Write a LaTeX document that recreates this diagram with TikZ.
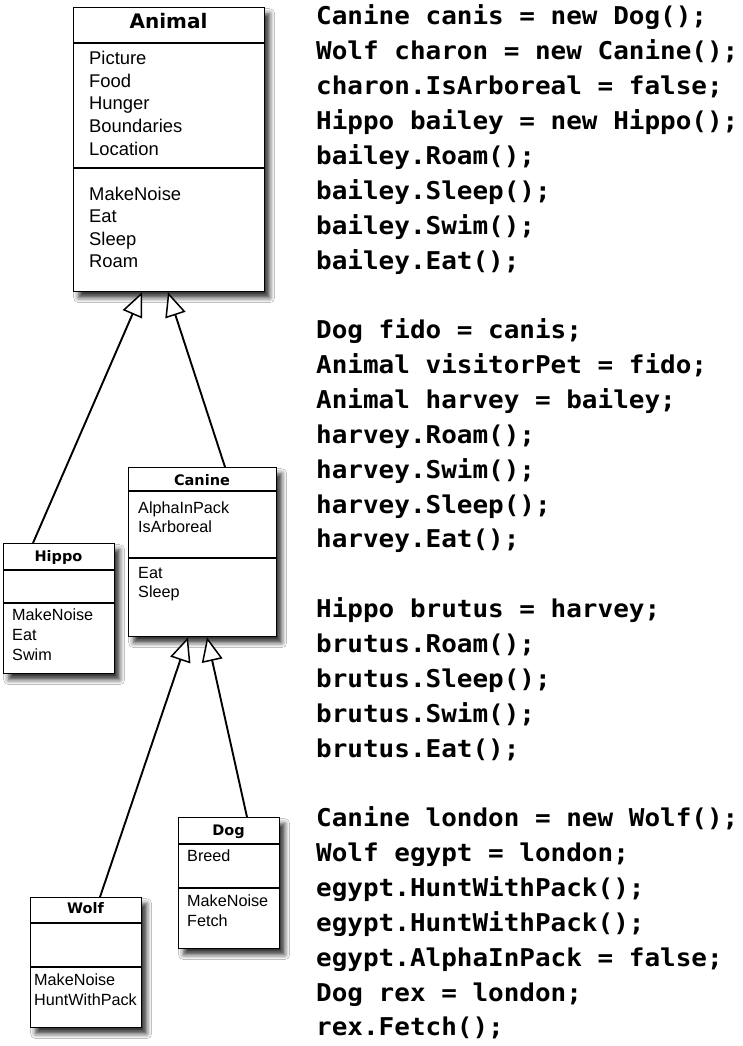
\documentclass[tikz,border=0pt]{standalone}
\usepackage{fontspec}
\setmainfont{Liberation Sans}
\newfontfamily\codefont[FakeStretch=1.06]{DejaVu Sans Mono}
\newfontfamily\headfont{DejaVu Sans}
\usetikzlibrary{arrows.meta,shadows.blur}
\tikzset{
  umlbox/.style={draw=black, line width=1.3pt, fill=white, inner sep=0pt, anchor=north west,
    blur shadow={shadow xshift=5pt, shadow yshift=-6pt, shadow blur radius=5pt, shadow opacity=80}},
  sepline/.style={line width=1.3pt},
  bigtitle/.style={anchor=base, inner sep=0pt, font={\headfont\bfseries\fontsize{20}{22}\selectfont}},
  smalltitle/.style={anchor=base, inner sep=0pt, font={\headfont\bfseries\fontsize{14.5}{17}\selectfont}},
  bigitem/.style={anchor=base west, inner sep=0pt, font={\fontsize{18.4}{22}\selectfont}},
  smallitem/.style={anchor=base west, inner sep=0pt, font={\fontsize{16.2}{19}\selectfont}},
  codeline/.style={anchor=base west, inner sep=0pt, font={\codefont\bfseries\fontsize{24.5}{34}\selectfont}},
  inherit/.style={line width=1.9pt, -{Triangle[length=24pt, width=21pt, fill=white, line width=1.5pt]}}
}
\begin{document}
\begin{tikzpicture}[x=1pt, y=-1pt]
\useasboundingbox[fill=white] (0,0) rectangle (742,1046);

% Animal
\node[umlbox, minimum width=191pt, minimum height=284pt] (animal) at (73,7) {};
\draw[sepline] (73,43) -- (264,43);
\draw[sepline] (73,168) -- (264,168);
\node[bigtitle] (animalT) at (168.5,28.5) {Animal};
\foreach \y/\t [count=\i] in {65/Picture, 87.5/Food, 110/Hunger, 132.5/Boundaries, 155/Location,
  200/MakeNoise, 222.5/Eat, 245/Sleep, 267.5/Roam}
  \node[bigitem] (animal\i) at (89,\y) {\t};

% Canine
\node[umlbox, minimum width=148pt, minimum height=169pt] (canine) at (128,467) {};
\draw[sepline] (128,491) -- (276,491);
\draw[sepline] (128,558) -- (276,558);
\node[smalltitle] (canineT) at (202,485) {Canine};
\foreach \y/\t [count=\i] in {513/AlphaInPack, 532/IsArboreal, 578/Eat, 597/Sleep}
  \node[smallitem] (canine\i) at (138,\y) {\t};

% Hippo
\node[umlbox, minimum width=111pt, minimum height=130pt] (hippo) at (3,543) {};
\draw[sepline] (3,570) -- (114,570);
\draw[sepline] (3,603) -- (114,603);
\node[smalltitle] (hippoT) at (58.5,561.5) {Hippo};
\foreach \y/\t [count=\i] in {620/MakeNoise, 640/Eat, 660/Swim}
  \node[smallitem] (hippo\i) at (12,\y) {\t};

% Wolf
\node[umlbox, minimum width=111pt, minimum height=130pt] (wolf) at (30,897) {};
\draw[sepline] (30,923) -- (141,923);
\draw[sepline] (30,967) -- (141,967);
\node[smalltitle] (wolfT) at (85.5,913) {Wolf};
\foreach \y/\t [count=\i] in {985/MakeNoise, 1005/HuntWithPack}
  \node[smallitem] (wolf\i) at (34,\y) {\t};

% Dog
\node[umlbox, minimum width=101pt, minimum height=131pt] (dog) at (178,817) {};
\draw[sepline] (178,844) -- (279,844);
\draw[sepline] (178,888) -- (279,888);
\node[smalltitle] (dogT) at (228.5,835) {Dog};
\foreach \y/\t [count=\i] in {861.5/Breed, 906.5/MakeNoise, 926.5/Fetch}
  \node[smallitem] (dog\i) at (187,\y) {\t};

% inheritance connectors
\draw[inherit] ([xshift=30pt]hippo.north west) -- ([xshift=69pt]animal.south west);
\draw[inherit] ([xshift=97pt]canine.north west) -- ([xshift=95pt]animal.south west);
\draw[inherit] ([xshift=70pt]wolf.north west) -- ([xshift=60pt]canine.south west);
\draw[inherit] ([xshift=69pt]dog.north west) -- ([xshift=79pt]canine.south west);

% code
\foreach \n/\t in {0/Canine canis = new Dog();, 1/Wolf charon = new Canine();,
  2/charon.IsArboreal = false;, 3/Hippo bailey = new Hippo();, 4/bailey.Roam();,
  5/bailey.Sleep();, 6/bailey.Swim();, 7/bailey.Eat();,
  9/Dog fido = canis;, 10/Animal visitorPet = fido;, 11/Animal harvey = bailey;,
  12/harvey.Roam();, 13/harvey.Swim();, 14/harvey.Sleep();, 15/harvey.Eat();,
  17/Hippo brutus = harvey;, 18/brutus.Roam();, 19/brutus.Sleep();, 20/brutus.Swim();, 21/brutus.Eat();,
  23/Canine london = new Wolf();, 24/Wolf egypt = london;, 25/egypt.HuntWithPack();,
  26/egypt.HuntWithPack();, 27/egypt.AlphaInPack = false;, 28/Dog rex = london;, 29/rex.Fetch();}
  \node[codeline] (code\n) at (316,{25+34.86*\n}) {\t};
\end{tikzpicture}
\end{document}
